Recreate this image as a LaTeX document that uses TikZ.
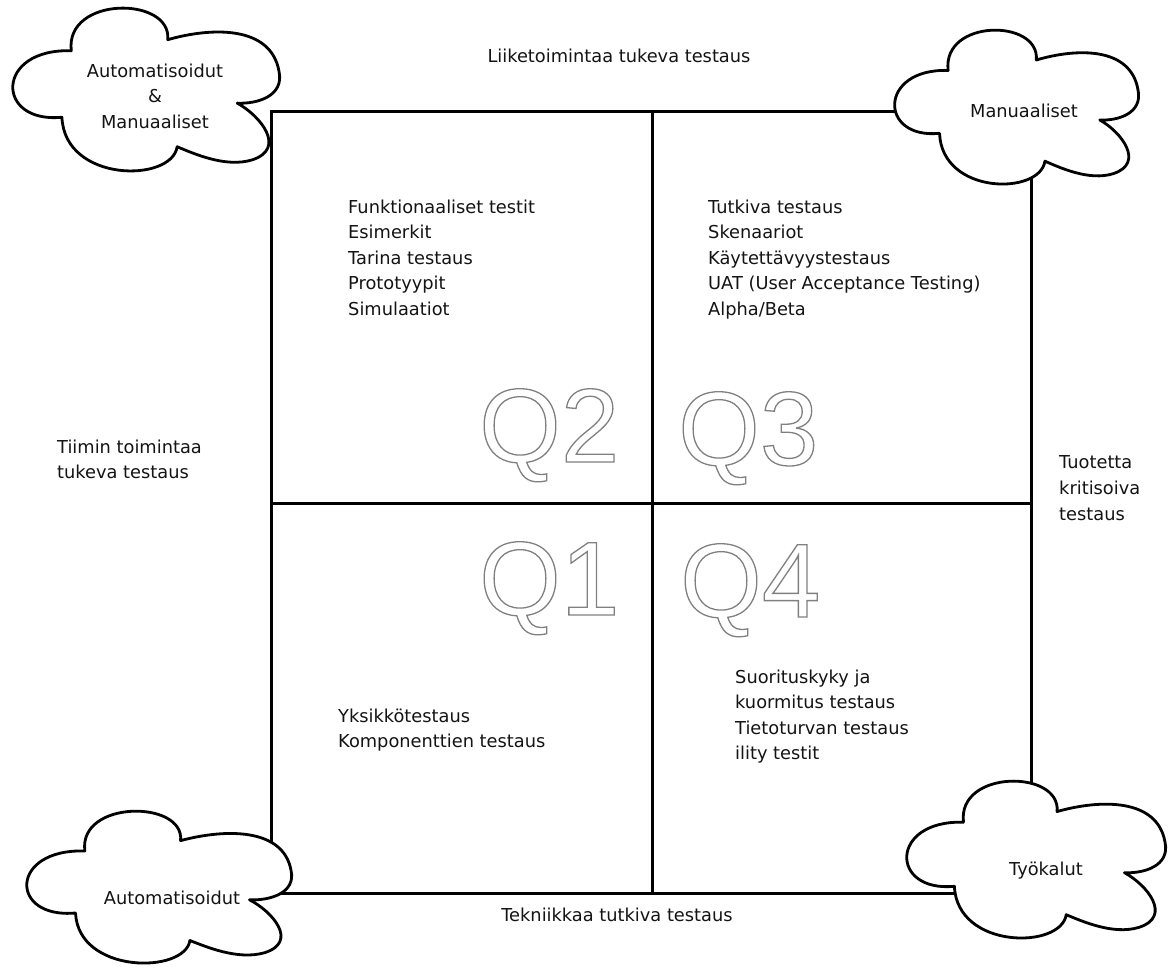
\documentclass[tikz,border=0pt]{standalone}
\usepackage{fontspec}
\setmainfont{DejaVu Sans}
\newfontfamily\qfont{Liberation Sans}

% hollow (stroked) glyphs through the PDF text rendering mode
\newcommand{\hollow}[1]{%
  \special{pdf:literal direct 1 Tr 1.3 w}#1\special{pdf:literal direct 0 Tr}}

% cloud outline in a unit box (y grows downwards)
\newcommand{\cloudat}[4]{%
  \begin{scope}[shift={(#1,#2)}, xscale=#3, yscale=#4]
    \path[cloudline] (0.225,0.255)
      .. controls (0.20,-0.08) and (0.60,-0.08) .. (0.585,0.187)
      .. controls (0.75,0.11) and (0.97,0.10) .. (1,0.38)
      .. controls (1.02,0.53) and (0.92,0.58) .. (0.844,0.574)
      .. controls (0.93,0.65) and (1.03,0.85) .. (0.9,0.92)
      .. controls (0.8,0.97) and (0.68,0.88) .. (0.62,0.84)
      .. controls (0.60,1.06) and (0.20,1.06) .. (0.19,0.66)
      .. controls (-0.06,0.70) and (-0.06,0.24) .. cycle;
  \end{scope}}

\begin{document}
\begin{tikzpicture}[x=1pt,y=-1pt,
  frame/.style={line width=3pt, line cap=rect},
  cloudline/.style={draw=black, fill=white, line width=2.8pt, line join=round},
  txt/.style={inner sep=0pt, anchor=base west, text=black!92, font=\fontsize{17.8}{25.5}\selectfont},
  ctxt/.style={inner sep=0pt, anchor=base, text=black!92, font=\fontsize{17.8}{25.5}\selectfont},
  qmark/.style={inner sep=0pt, anchor=base west, text=black!50, font=\fontsize{105}{105}\qfont}]

\useasboundingbox (0,0) rectangle (1176,971);
\fill[white] (0,0) rectangle (1176,971);

% quadrant frame
\coordinate (tl) at (271,112);
\coordinate (tr) at (1031,112);
\coordinate (bl) at (271,893);
\coordinate (br) at (1031,893);
\coordinate (mt) at (652,112);
\coordinate (mb) at (652,893);
\coordinate (ml) at (271,503);
\coordinate (mr) at (1031,503);
\draw[frame] (tl) rectangle (br);
\draw[frame] (mt) -- (mb);
\draw[frame] (ml) -- (mr);

% quadrant numbers
\node[qmark] (q2) at (479,462) {\hollow{Q2}};
\node[qmark] (q3) at (678,465) {\hollow{Q3}};
\node[qmark] (q1) at (479,615) {\hollow{Q1}};
\node[qmark] (q4) at (680,617) {\hollow{Q4}};

% clouds in the corners
\cloudat{11}{9}{268}{164}
\cloudat{893}{31}{245}{155}
\cloudat{25}{812}{266}{153}
\cloudat{905}{782}{260}{158}

% cloud captions
\node[ctxt] (ca1) at (155,78) {Automatisoidut};
\node[ctxt] (ca2) at (155,103) {\&};
\node[ctxt] (ca3) at (155,129) {Manuaaliset};
\node[ctxt] (cb) at (1024,118) {Manuaaliset};
\node[ctxt] (cc) at (172,904) {Automatisoidut};
\node[ctxt] (cd) at (1046,875) {Työkalut};

% axis captions
\node[ctxt] (top) at (619,63) {Liiketoimintaa tukeva testaus};
\node[ctxt] (bottom) at (617,921) {Tekniikkaa tutkiva testaus};
\node[txt] (l1) at (57,453) {Tiimin toimintaa};
\node[txt] (l2) at (57,478) {tukeva testaus};
\node[txt] (r1) at (1059,468) {Tuotetta};
\node[txt] (r2) at (1059,494) {kritisoiva};
\node[txt] (r3) at (1059,520) {testaus};

% Q2 contents
\node[txt] (a1) at (348,213) {Funktionaaliset testit};
\node[txt] (a2) at (348,238.5) {Esimerkit};
\node[txt] (a3) at (348,264) {Tarina testaus};
\node[txt] (a4) at (348,289.5) {Prototyypit};
\node[txt] (a5) at (348,315) {Simulaatiot};

% Q3 contents
\node[txt] (b1) at (708,213) {Tutkiva testaus};
\node[txt] (b2) at (708,238.5) {Skenaariot};
\node[txt] (b3) at (708,264) {Käytettävyystestaus};
\node[txt] (b4) at (708,289.5) {UAT (User Acceptance Testing)};
\node[txt] (b5) at (708,315) {Alpha/Beta};

% Q1 contents
\node[txt] (c1) at (338,722) {Yksikkötestaus};
\node[txt] (c2) at (338,747.5) {Komponenttien testaus};

% Q4 contents
\node[txt] (d1) at (735,683) {Suorituskyky ja};
\node[txt] (d2) at (735,708.5) {kuormitus testaus};
\node[txt] (d3) at (735,734) {Tietoturvan testaus};
\node[txt] (d4) at (735,759.5) {ility testit};
\end{tikzpicture}
\end{document}
